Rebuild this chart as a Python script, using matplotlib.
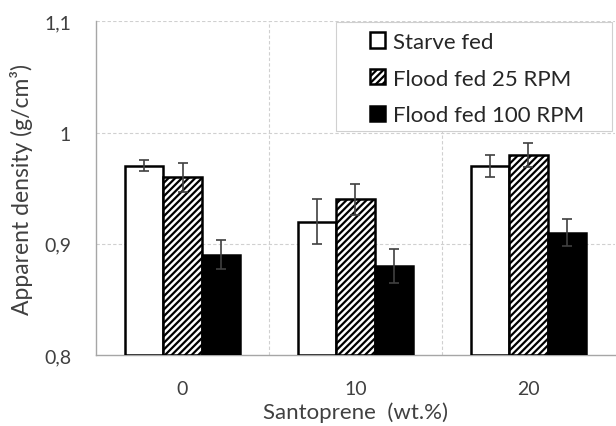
import matplotlib
matplotlib.use("Agg")
import matplotlib.pyplot as plt
from matplotlib.patches import Rectangle
import numpy as np

plt.rcParams["font.family"] = ["Lato", "DejaVu Sans"]
plt.rcParams["hatch.linewidth"] = 1.6

# Data
santoprene = ["0", "10", "20"]
series_names = ["Starve fed", "Flood fed 25 RPM", "Flood fed 100 RPM"]
starve_fed = [0.97, 0.92, 0.97]
flood_25 = [0.96, 0.94, 0.98]
flood_100 = [0.89, 0.88, 0.91]
starve_err = [0.005, 0.02, 0.01]
flood_25_err = [0.013, 0.014, 0.011]
flood_100_err = [0.013, 0.015, 0.012]
y_ticks = [0.8, 0.9, 1.0, 1.1]
y_tick_labels = ["0,8", "0,9", "1", "1,1"]

fig = plt.figure(figsize=(6.16, 4.27), dpi=100)
ax = fig.add_axes([0.156, 0.166, 0.842, 0.782])

x = np.arange(len(santoprene))
w = 1 / 4.5  # Excel-style gap width of 150%

styles = [
    dict(color="white", edgecolor="black", hatch=""),
    dict(color="white", edgecolor="black", hatch="/////"),
    dict(color="black", edgecolor="black", hatch=""),
]
values = [starve_fed, flood_25, flood_100]
errors = [starve_err, flood_25_err, flood_100_err]

for i, (vals, errs, st, name) in enumerate(zip(values, errors, styles, series_names)):
    pos = x + (i - 1) * w
    ax.bar(pos, np.array(vals) - 0.8, w, bottom=0.8, linewidth=1.8,
           label=name, zorder=3, **st)
    ax.errorbar(pos, vals, yerr=errs, fmt="none", ecolor="#404040",
                elinewidth=1.2, capsize=3.5, capthick=1.2, zorder=4)

ax.set_xlim(-0.5, 2.5)
ax.set_ylim(0.8, 1.1)
ax.set_yticks(y_ticks)
ax.set_yticklabels(y_tick_labels)
ax.set_xticks(x)
ax.set_xticklabels(santoprene)

# gridlines between categories and at y ticks
for xv in [0.5, 1.5]:
    ax.axvline(xv, color="#d0d0d0", linestyle=(0, (3, 2)), linewidth=0.8, zorder=0)
for yv in y_ticks[1:]:
    ax.axhline(yv, color="#d0d0d0", linestyle=(0, (3, 2)), linewidth=0.8, zorder=0)

for s in ["top", "right"]:
    ax.spines[s].set_visible(False)
for s in ["left", "bottom"]:
    ax.spines[s].set_color("#a6a6a6")
    ax.spines[s].set_linewidth(1.0)
ax.tick_params(axis="y", length=0, labelsize=14, colors="#404040", pad=18)
ax.tick_params(axis="x", length=0, labelsize=14, colors="#404040", pad=18)

ax.set_ylabel("Apparent density (g/cm³)", fontsize=16.5, color="#404040", labelpad=8)
ax.set_xlabel("Santoprene  (wt.%)", fontsize=16, color="#404040", labelpad=3)

# legend box (Excel style, wider than its entries)
ax.add_patch(Rectangle((0.462, 0.671), 0.532, 0.326, transform=ax.transAxes,
                       facecolor="white", edgecolor="#d0d0d0", linewidth=0.8,
                       zorder=5))
leg = ax.legend(loc="upper left", bbox_to_anchor=(0.528, 0.968), fontsize=16,
                frameon=False, handlelength=0.68, handleheight=0.68,
                handletextpad=0.36, labelspacing=0.75, borderpad=0,
                borderaxespad=0)
leg.set_zorder(6)
for t in leg.get_texts():
    t.set_color("#262626")

fig.savefig("out.png", dpi=100)
